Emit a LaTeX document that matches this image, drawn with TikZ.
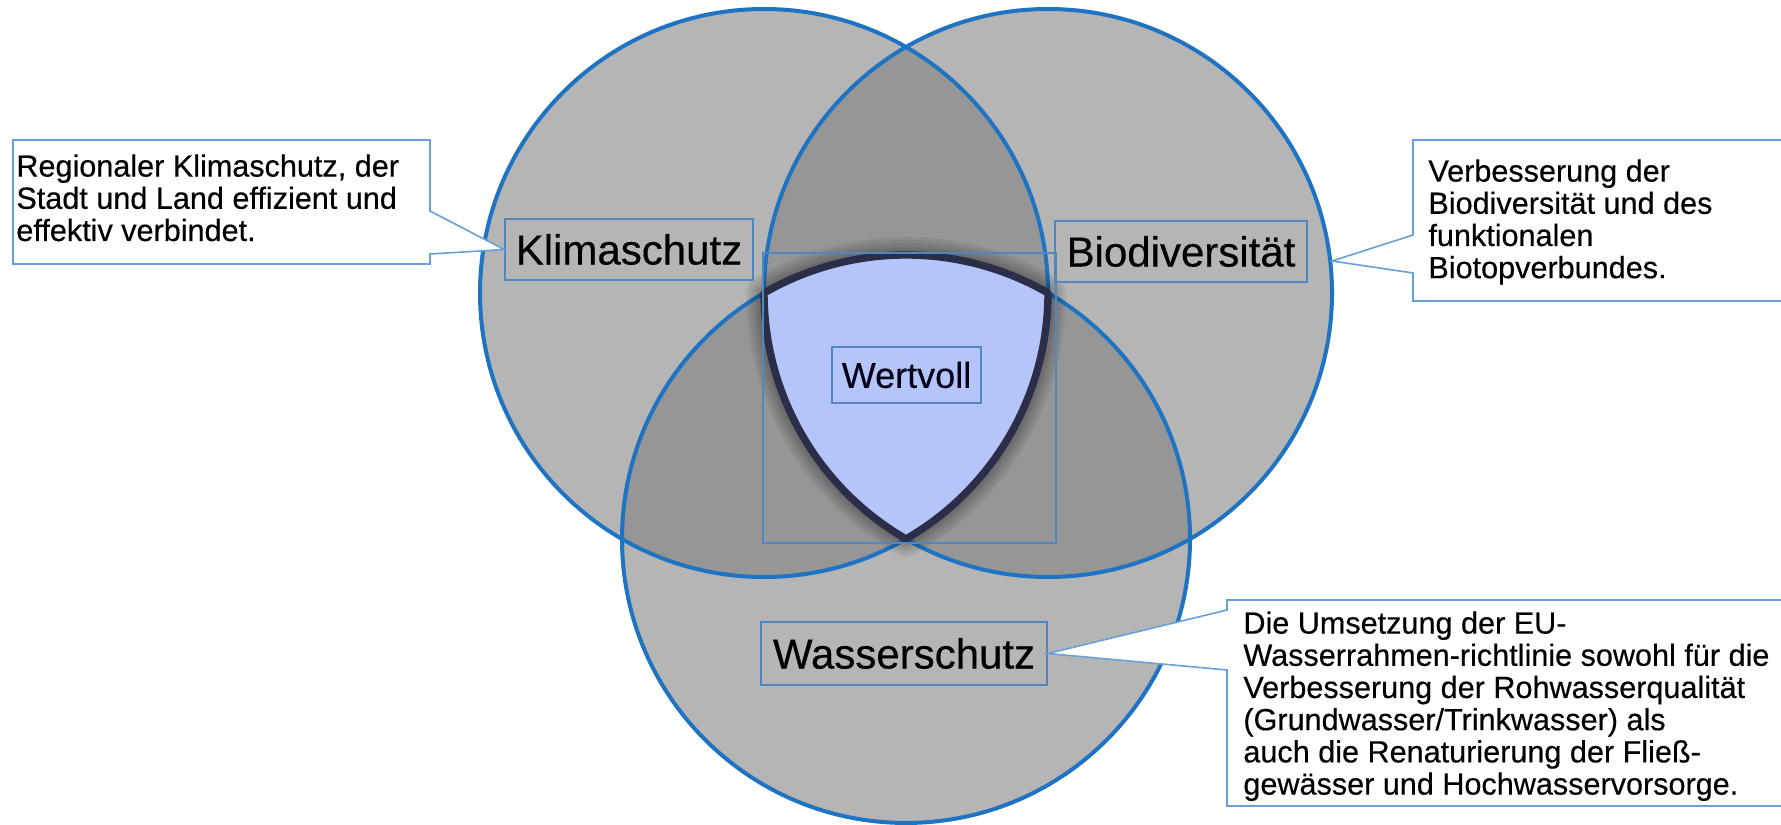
\documentclass[tikz,border=0pt]{standalone}
\usepackage{fontspec}
\setmainfont{Liberation Sans}[FakeBold=0.4]
\usetikzlibrary{calc}
\definecolor{circblue}{RGB}{30,116,194}
\definecolor{boxblue}{RGB}{80,135,190}
\definecolor{callblue}{RGB}{105,160,215}
\definecolor{shieldfill}{RGB}{181,197,250}
\definecolor{shieldline}{RGB}{42,46,72}
\definecolor{venngray}{RGB}{128,128,128}
\newcommand\shieldpath{(L) arc[start angle=240,end angle=300,radius=284] arc[start angle=0,end angle=60,radius=284] arc[start angle=120,end angle=180,radius=284] -- cycle}
\begin{document}
\begin{tikzpicture}[x=0.5pt,y=-0.5pt,
  vfill/.style={fill=venngray,fill opacity=0.58},
  vline/.style={draw=circblue,line width=2pt},
  lbl/.style={draw=boxblue,line width=0.9pt,inner sep=0pt,font=\fontsize{21pt}{24pt}\selectfont},
  calltext/.style={inner sep=0pt,align=left,anchor=north west,font=\fontsize{15.3pt}{16.1pt}\selectfont},
  callout/.style={draw=callblue,line width=0.8pt,fill=white,line join=miter},
]
\useasboundingbox (0,0) rectangle (1781,824);
\fill[white] (0,0) rectangle (1781,824);
\coordinate (L) at (764,293);
\coordinate (R) at (1048,293);
\coordinate (B) at (906,538.95);
% circles
\fill[vfill] (L) circle[radius=284];
\fill[vfill] (R) circle[radius=284];
\fill[vfill] (B) circle[radius=284];
\draw[vline] (L) circle[radius=284];
\draw[vline] (R) circle[radius=284];
\draw[vline] (B) circle[radius=284];
% shield shadow
\foreach \w in {18,15,12,9,6.5}{
  \draw[line width=\w pt,black,opacity=0.06,line join=round] \shieldpath;
}
\fill[shieldfill] \shieldpath;
\draw[shieldline,line width=3.7pt,line join=round] \shieldpath;
% frame square
\node[draw=boxblue,line width=0.8pt,minimum width=146.5pt,minimum height=145pt,inner sep=0pt] (frame) at (909.5,398) {};
% labels
\node[lbl,minimum width=124pt,minimum height=30.5pt] (klima) at (629,249.5) {Klimaschutz};
\node[lbl,minimum width=126pt,minimum height=30.5pt] (bio) at (1181,251.5) {Biodiversität};
\node[lbl,minimum width=143pt,minimum height=31.5pt] (wasser) at (904,653.5) {Wasserschutz};
\node[draw=boxblue,line width=0.9pt,inner sep=0pt,minimum width=74.5pt,minimum height=28pt,font=\fontsize{18pt}{20pt}\selectfont,text=black!90!blue] (wert) at (906.5,375) {Wertvoll};
% callouts
\coordinate (biotip) at (1332,261);
\draw[callout] (13,140) -- (430,140) -- (430,211) -- (klima.west) -- (430,254) -- (430,264) -- (13,264) -- cycle;
\draw[callout] (1413,140) -- (1800,140) -- (1800,301) -- (1413,301) -- (1413,273) -- (biotip) -- (1413,235) -- cycle;
\draw[callout] (1227,600) -- (1800,600) -- (1800,806) -- (1227,806) -- (1227,670) -- (wasser.east) -- (1227,610) -- cycle;
\node[calltext] (ltext) at (16,154) {Regionaler Klimaschutz, der\\Stadt und Land effizient und\\effektiv verbindet.};
\node[calltext] (rtext) at (1428,159) {Verbesserung der\\Biodiversität und des\\funktionalen\\Biotopverbundes.};
\node[calltext] (wtext) at (1243,611) {Die Umsetzung der EU-\\Wasserrahmen-richtlinie sowohl für die\\Verbesserung der Rohwasserqualität\\(Grundwasser/Trinkwasser) als\\auch die Renaturierung der Fließ-\\gewässer und Hochwasservorsorge.};
\end{tikzpicture}
\end{document}
